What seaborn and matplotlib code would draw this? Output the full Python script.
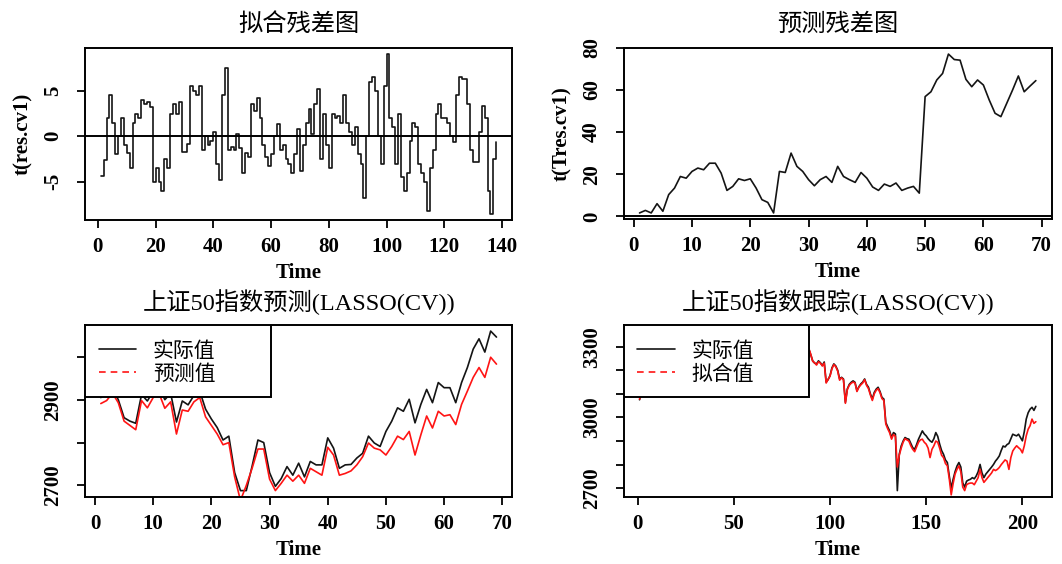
import matplotlib
matplotlib.use("Agg")
import matplotlib.pyplot as plt
from matplotlib.lines import Line2D
from matplotlib.patches import Rectangle
import numpy as np
import pandas as pd
import seaborn as sns

# ---------------- data ----------------
res_fit = [
    -4.4, -2.6, 2.0, 4.5, 1.5, -2.0, 0.0, 2.0, -1.0, -1.8,
    -3.5, 1.5, 2.5, 2.0, 4.0, 3.5, 3.8, 3.2, -5.0, -3.5,
    -5.0, -6.0, -2.5, -3.5, 2.5, 3.5, 2.5, 3.8, -1.7, -1.7,
    -0.8, 5.5, 5.0, 4.5, 5.5, -1.5, 0.0, -1.0, -0.5, 0.5,
    -3.0, -4.8, 4.5, 7.5, -1.5, -1.2, -1.5, 0.2, -1.3, -4.0,
    -1.8, -2.3, 3.5, 2.8, 4.2, 2.0, -1.0, -2.3, -3.3, -2.0,
    0.0, 1.3, -1.5, -1.0, -2.5, -3.0, -4.0, -2.0, 0.8, -3.8,
    -1.0, 1.5, 3.0, 0.3, 3.5, 5.2, -2.5, 2.5, -1.0, -3.5,
    2.5, 2.0, 2.2, 1.5, 4.5, 1.5, 0.5, -1.0, 1.0, -2.0,
    -3.0, -6.8, 0.0, 6.0, 6.5, 5.0, 0.0, -3.0, 5.5, 9.0,
    2.0, 1.0, -3.0, 2.5, -4.5, -6.0, -4.0, -0.5, 1.5, 1.0,
    -3.0, -4.0, -5.0, -8.2, -3.5, -1.5, 2.5, 3.5, 2.0, 2.0,
    1.5, 0.0, -0.6, 4.5, 6.5, 6.3, 6.3, 3.5, -1.5, -2.8,
    -2.8, 0.5, 3.3, 2.0, -6.0, -8.5, -2.5, -0.6,
]

res_pred = [
    1.6, 2.8, 1.6, 6.0, 2.4, 10.3, 13.4, 18.9, 18.1, 21.3,
    22.9, 22.1, 25.2, 25.2, 20.5, 12.3, 14.2, 17.8, 17.0, 17.8,
    13.4, 7.9, 6.6, 1.6, 21.3, 20.8, 30.0, 23.7, 21.3, 17.4,
    14.5, 17.4, 18.9, 16.1, 23.7, 18.9, 17.4, 16.1, 20.8, 18.1,
    13.9, 12.3, 15.3, 14.2, 15.8, 12.3, 13.4, 14.2, 11.0, 56.8,
    59.1, 64.7, 67.8, 77.0, 74.4, 74.1, 65.0, 61.5, 64.7, 62.3,
    55.2, 48.9, 47.3, 53.6, 59.9, 66.6, 59.1, 61.8, 64.4,
]

actual_pred = [
    2905, 2915, 2925, 2900, 2858, 2850, 2845, 2912, 2897, 2920,
    2930, 2900, 2915, 2848, 2897, 2888, 2910, 2920, 2878, 2855,
    2835, 2806, 2815, 2730, 2688, 2688, 2745, 2806, 2800, 2730,
    2698, 2716, 2744, 2724, 2752, 2720, 2756, 2748, 2748, 2811,
    2787, 2740, 2748, 2749, 2764, 2775, 2815, 2799, 2791, 2826,
    2850, 2881, 2873, 2901, 2846, 2889, 2924, 2893, 2940, 2928,
    2928, 2893, 2940, 2975, 3018, 3042, 3011, 3060, 3046,
]
predicted = [
    2891, 2898, 2915, 2893, 2850, 2840, 2830, 2898, 2881, 2905,
    2915, 2880, 2895, 2820, 2876, 2873, 2895, 2905, 2860, 2840,
    2820, 2795, 2800, 2720, 2665, 2700, 2740, 2785, 2785, 2715,
    2688, 2705, 2724, 2710, 2724, 2705, 2740, 2732, 2724, 2789,
    2771, 2724, 2728, 2734, 2748, 2767, 2799, 2787, 2783, 2771,
    2791, 2815, 2807, 2826, 2771, 2818, 2862, 2834, 2873, 2862,
    2865, 2842, 2889, 2920, 2952, 2975, 2952, 2999, 2983,
]

actual_track = [
    3075, 3110, 3130, 3150, 3140, 3170, 3190, 3180, 3210, 3230,
    3220, 3250, 3260, 3240, 3270, 3290, 3280, 3300, 3320, 3310,
    3290, 3300, 3330, 3340, 3320, 3310, 3340, 3360, 3350, 3330,
    3310, 3320, 3300, 3280, 3290, 3310, 3300, 3270, 3260, 3280,
    3300, 3320, 3310, 3290, 3300, 3330, 3350, 3366, 3340, 3320,
    3300, 3280, 3270, 3290, 3300, 3310, 3290, 3270, 3250, 3260,
    3280, 3300, 3290, 3270, 3260, 3280, 3290, 3270, 3250, 3240,
    3260, 3280, 3270, 3250, 3240, 3260, 3280, 3290, 3300, 3310,
    3300, 3290, 3310, 3320, 3300, 3290, 3300, 3310, 3290, 3265,
    3240, 3230, 3227, 3240, 3232, 3220, 3235, 3150, 3160, 3177,
    3210, 3227, 3218, 3200, 3163, 3170, 3163, 3064, 3121, 3140,
    3149, 3155, 3149, 3113, 3130, 3142, 3150, 3163, 3140, 3128,
    3100, 3078, 3106, 3120, 3128, 3110, 3085, 3078, 2979, 2960,
    2943, 2915, 2936, 2930, 2690, 2844, 2879, 2900, 2915, 2910,
    2908, 2890, 2872, 2865, 2885, 2908, 2925, 2943, 2930, 2922,
    2910, 2901, 2895, 2910, 2936, 2920, 2887, 2860, 2844, 2820,
    2809, 2752, 2700, 2738, 2770, 2794, 2809, 2790, 2723, 2705,
    2730, 2735, 2738, 2745, 2740, 2752, 2770, 2801, 2765, 2745,
    2760, 2770, 2780, 2790, 2801, 2815, 2825, 2837, 2860, 2879,
    2875, 2885, 2890, 2910, 2929, 2925, 2922, 2929, 2915, 2901,
    2940, 2993, 3020, 3035, 3043, 3030, 3047,
]
fitted = [
    3078, 3105, 3128, 3148, 3142, 3165, 3188, 3182, 3205, 3228,
    3222, 3245, 3258, 3242, 3265, 3288, 3282, 3296, 3318, 3312,
    3292, 3298, 3326, 3338, 3322, 3308, 3336, 3356, 3352, 3332,
    3312, 3318, 3302, 3282, 3288, 3306, 3302, 3272, 3262, 3278,
    3298, 3316, 3312, 3292, 3298, 3326, 3346, 3360, 3342, 3322,
    3302, 3282, 3272, 3288, 3298, 3306, 3292, 3272, 3252, 3258,
    3278, 3296, 3292, 3272, 3262, 3278, 3286, 3272, 3252, 3242,
    3258, 3276, 3272, 3252, 3242, 3258, 3276, 3286, 3296, 3306,
    3302, 3292, 3306, 3316, 3302, 3292, 3298, 3306, 3292, 3268,
    3238, 3232, 3222, 3236, 3230, 3218, 3230, 3146, 3162, 3175,
    3206, 3224, 3215, 3196, 3158, 3168, 3160, 3060, 3118, 3136,
    3145, 3150, 3146, 3110, 3128, 3138, 3146, 3160, 3136, 3122,
    3095, 3072, 3100, 3115, 3122, 3105, 3080, 3072, 2972, 2952,
    2935, 2908, 2928, 2920, 2790, 2840, 2870, 2895, 2910, 2905,
    2900, 2880, 2865, 2855, 2875, 2895, 2905, 2908, 2895, 2887,
    2870, 2830, 2865, 2880, 2900, 2895, 2870, 2840, 2830, 2805,
    2795, 2740, 2672, 2720, 2760, 2780, 2795, 2770, 2705, 2690,
    2715, 2720, 2722, 2722, 2715, 2730, 2745, 2780, 2745, 2725,
    2735, 2745, 2755, 2765, 2780, 2775, 2780, 2788, 2800, 2810,
    2820, 2815, 2780, 2830, 2858, 2870, 2880, 2872, 2865, 2850,
    2880, 2922, 2950, 2965, 2993, 2975, 2982,
]

titles = ["拟合残差图", "预测残差图", "上证50指数预测(LASSO(CV))", "上证50指数跟踪(LASSO(CV))"]
ylabels = ["t(res.cv1)", "t(Tres.cv1)", "", ""]
legend_pred = ["实际值", "预测值"]
legend_track = ["实际值", "拟合值"]

xticks_list = [list(range(0, 141, 20)), list(range(0, 71, 10)),
               list(range(0, 71, 10)), list(range(0, 201, 50))]
yticks_list = [[-5, 0, 5], [0, 20, 40, 60, 80],
               [2700, 2800, 2900, 3000], [2700, 2800, 2900, 3000, 3100, 3200, 3300]]
yticklabels_list = [["-5", "0", "5"], ["0", "20", "40", "60", "80"],
                    ["2700", "", "2900", ""], ["2700", "", "", "3000", "", "", "3300"]]

# ---------------- style ----------------
sns.set_theme(style="white")
plt.rcParams["font.family"] = ["Liberation Serif", "Noto Sans CJK SC"]
plt.rcParams.update({
    "text.color": "black", "axes.labelcolor": "black",
    "axes.edgecolor": "black", "axes.linewidth": 1.4,
    "xtick.color": "black", "ytick.color": "black",
    "xtick.labelcolor": "black", "ytick.labelcolor": "black",
    "xtick.major.size": 6, "ytick.major.size": 6,
    "xtick.major.width": 1.3, "ytick.major.width": 1.3,
    "xtick.direction": "out", "ytick.direction": "out",
    "xtick.bottom": True, "ytick.left": True,
})

W, H = 1062, 564
fig = plt.figure(figsize=(W / 100, H / 100), dpi=100)
fig.patch.set_facecolor("white")

boxes = [(85, 48, 512, 220), (623.7, 47.7, 1051.7, 219.3),
         (85, 324.7, 512.3, 497), (623.7, 324.7, 1051.7, 497)]
axs = []
for (l, t, r, b) in boxes:
    axs.append(fig.add_axes([l / W, 1 - b / H, (r - l) / W, (b - t) / H]))


def rlim(v):
    lo, hi = min(v), max(v)
    p = 0.04 * (hi - lo)
    return lo - p, hi + p


LW = 1.2
TICK_FS = 15
DARK = "#141414"
RED = "#ff1414"

# panel 1: step plot
df1 = pd.DataFrame({"Time": np.arange(1, len(res_fit) + 1), "v": res_fit})
sns.lineplot(data=df1, x="Time", y="v", ax=axs[0], color=DARK, lw=LW,
             estimator=None, drawstyle="steps-post")
axs[0].axhline(0, color="black", lw=1.4)
axs[0].set_xlim(rlim(df1["Time"]))
axs[0].set_ylim(rlim(res_fit))

# panel 2
df2 = pd.DataFrame({"Time": np.arange(1, len(res_pred) + 1), "v": res_pred})
sns.lineplot(data=df2, x="Time", y="v", ax=axs[1], color=DARK, lw=LW, estimator=None)
axs[1].axhline(0, color="black", lw=1.4)
axs[1].set_xlim(rlim(df2["Time"]))
axs[1].set_ylim(rlim(res_pred))

# panels 3, 4
for ax, act, est, labs in [(axs[2], actual_pred, predicted, legend_pred),
                           (axs[3], actual_track, fitted, legend_track)]:
    n = len(act)
    df = pd.DataFrame({"Time": np.arange(1, n + 1), "a": act, "e": est})
    sns.lineplot(data=df, x="Time", y="a", ax=ax, color=DARK, lw=LW, estimator=None)
    sns.lineplot(data=df, x="Time", y="e", ax=ax, color=RED, lw=LW, estimator=None)
    ax.set_xlim(rlim(df["Time"]))
    ax.set_ylim(rlim(act))
    pos = ax.get_position()
    bw = 185.7 / (pos.width * W)
    bh = 72.6 / (pos.height * H)
    ax.add_patch(Rectangle((0, 1 - bh), bw, bh, transform=ax.transAxes,
                           facecolor="white", edgecolor="black", lw=1.4, zorder=4))
    handles = [Line2D([], [], color=DARK, lw=LW),
               Line2D([], [], color=RED, lw=LW, ls=(0, (4, 3)))]
    leg = ax.legend(handles, labs, loc="upper left",
                    bbox_to_anchor=(0.01, 1.0 - 5.5 / (pos.height * H)),
                    borderaxespad=0, frameon=False,
                    prop={"family": "Noto Sans CJK SC", "size": 15},
                    handlelength=1.8, handletextpad=0.8, borderpad=0.45,
                    labelspacing=0.05)
    for txt in leg.get_texts():
        txt.set_color("black")
    leg.set_zorder(6)

for i, ax in enumerate(axs):
    pos = ax.get_position()
    hpx, wpx = pos.height * H, pos.width * W
    ax.set_xticks(xticks_list[i])
    ax.set_xticklabels([str(v) for v in xticks_list[i]], fontsize=TICK_FS,
                       fontweight="bold", va="center", color="black")
    ax.set_yticks(yticks_list[i])
    ax.set_yticklabels(yticklabels_list[i], fontsize=TICK_FS, fontweight="bold",
                       rotation=90, va="center", ha="center", color="black")
    ax.tick_params(axis="x", pad=13.5)
    ax.tick_params(axis="y", pad=17)
    ax.set_xlabel("Time", fontsize=15, fontweight="bold", color="black")
    ax.xaxis.set_label_coords(0.5, -53 / hpx)
    ax.xaxis.label.set_verticalalignment("center")
    ax.set_ylabel(ylabels[i], fontsize=15, fontweight="bold", color="black")
    ax.yaxis.set_label_coords(-62 / wpx, 0.5)
    ax.yaxis.label.set_verticalalignment("center")
    ax.text(0.5, 1 + 23 / hpx, titles[i], transform=ax.transAxes,
            ha="center", va="center", fontsize=17.5, color="black")
    for s in ax.spines.values():
        s.set_visible(True)
        s.set_color("black")
        s.set_linewidth(1.4)
    ax.grid(False)

fig.savefig("out.png", dpi=100, facecolor="white")
